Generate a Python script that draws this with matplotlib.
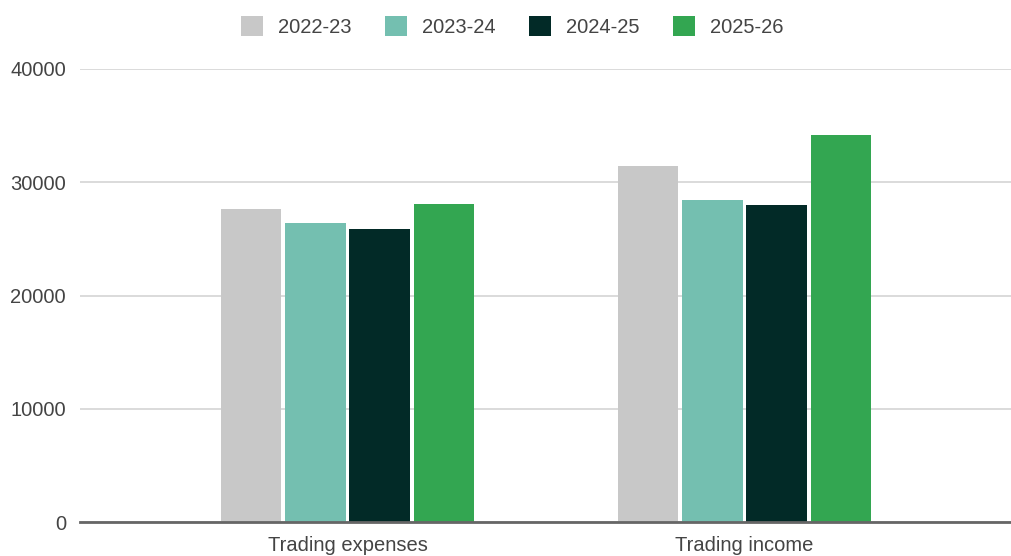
import numpy as np
import matplotlib.pyplot as plt
from matplotlib.patches import Patch

categorias = ['Trading expenses', 'Trading income']
series = ['2022-23', '2023-24', '2024-25', '2025-26']
valores = {
    '2022-23': [27600, 31400],
    '2023-24': [26400, 28400],
    '2024-25': [25900, 28000],
    '2025-26': [28100, 34200],
}
colores = ['#c8c8c8', '#74bfb0', '#022a27', '#33a651']

plt.rcParams['font.family'] = ['Liberation Sans', 'DejaVu Sans']

fig = plt.figure(figsize=(10.12, 5.56), dpi=100)
ax = fig.add_axes([80 / 1012, 34 / 556, 932 / 1012, 453 / 556])

x = np.arange(len(categorias))
ancho = 0.153
paso = 0.162
for i, s in enumerate(series):
    offset = (i - 1.5) * paso
    ax.bar(x + offset, valores[s], width=ancho, color=colores[i], zorder=3)

ax.set_xlim(-0.674, 1.674)
ax.set_ylim(0, 40000)
ax.set_yticks([0, 10000, 20000, 30000, 40000])
ax.set_xticks(x, categorias)
ax.grid(axis='y', color='#d4d4d4', linewidth=1.2, zorder=0)
for lado in ['top', 'right', 'left']:
    ax.spines[lado].set_visible(False)
ax.spines['bottom'].set_color('#666666')
ax.spines['bottom'].set_linewidth(2)
ax.spines['bottom'].set_zorder(4)
ax.tick_params(axis='both', length=0, labelsize=14.5, colors='#444444')
ax.tick_params(axis='y', pad=10)
ax.tick_params(axis='x', pad=10)

handles = [Patch(facecolor=c, label=s) for s, c in zip(series, colores)]
fig.legend(handles=handles, loc='upper center', bbox_to_anchor=(0.506, 1.003), ncols=4,
           frameon=False, fontsize=14.5, labelcolor='#444444', handlelength=1.1,
           handleheight=1.1, handletextpad=0.75, columnspacing=1.65)

fig.savefig('out.png', dpi=100)
